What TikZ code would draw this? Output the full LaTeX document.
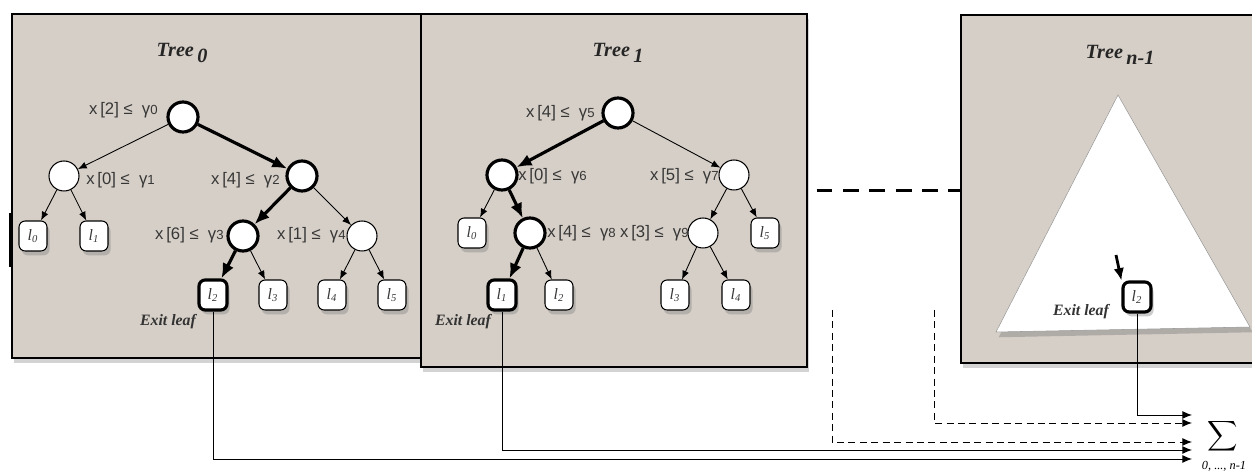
\documentclass[tikz,border=0pt]{standalone}
\usepackage{amsmath}
\usepackage{fontspec}
\setmainfont{Liberation Serif}
\setsansfont{Liberation Sans}
\usepackage{xcolor}
\definecolor{panel-bg}{RGB}{214,207,199}
\definecolor{label-gray}{RGB}{55,55,55}
\usepackage{tikz}
\usetikzlibrary{arrows.meta,shadows}
\newcommand{\cnd}[2]{x\,[#1]\;≤\;\;γ{\fontsize{7.5}{8}\selectfont #2}}
\newcommand{\lf}[1]{l\textsubscript{#1}}

\begin{document}
\begin{tikzpicture}[x=0.02cm,y=-0.02cm,
    panel/.style={rectangle,anchor=north west,draw=black,line width=1.1pt,fill=panel-bg,inner sep=0pt,drop shadow={shadow xshift=1pt,shadow yshift=-3pt,opacity=0.35}},
    splitnode/.style={circle,draw=black,fill=white,line width=0.6pt,minimum size=0.6cm,inner sep=0pt},
    pathnode/.style={splitnode,line width=1.8pt},
    leaf/.style={rectangle,rounded corners=3.5pt,draw=black,fill=white,line width=0.6pt,minimum width=0.56cm,minimum height=0.6cm,inner sep=0pt,font=\fontsize{9}{10}\selectfont\itshape,text=label-gray,drop shadow={shadow xshift=1.5pt,shadow yshift=-2.5pt,opacity=0.4}},
    exitnode/.style={leaf,line width=1.8pt},
    cond/.style={font=\sffamily\fontsize{9.5}{11}\selectfont,text=label-gray,inner sep=0pt},
    treetitle/.style={font=\bfseries\itshape\fontsize{11.5}{13}\selectfont,text=black!85},
    exitlabel/.style={font=\bfseries\itshape\fontsize{9}{10}\selectfont,text=black!80},
    thinarc/.style={-{Latex[length=5pt,width=4pt]},line width=0.5pt},
    patharc/.style={-{Latex[length=8.5pt,width=7pt]},line width=1.8pt},
    feed/.style={-{Latex[length=5.5pt,width=4.5pt]},line width=0.5pt}]
    \useasboundingbox (0,0) rectangle (1252,472);

    \node[panel,minimum width=8.18cm,minimum height=6.88cm] (p0) at (11,13) {};
    \node[panel,minimum width=7.72cm,minimum height=7.06cm] (p1) at (420,13) {};
    \node[panel,minimum width=6.1cm,minimum height=6.96cm] (p2) at (960,14) {};
    \draw[line width=2pt] (11,213) -- (11,267);

    \node[treetitle] (tt0) at (182,53) {Tree\raisebox{-0.6ex}{\,0}};
    \node[treetitle] (tt1) at (618,53) {Tree\raisebox{-0.6ex}{\,1}};
    \node[treetitle] (tt2) at (1120,55) {Tree\raisebox{-0.6ex}{\,n-1}};

    \node[pathnode] (t0r) at (183,117) {};
    \node[splitnode] (t0a) at (64,176) {};
    \node[pathnode] (t0b) at (302,176) {};
    \node[pathnode] (t0c) at (243,236) {};
    \node[splitnode] (t0d) at (362,236) {};
    \node[leaf] (t0l0) at (33,236) {\lf{0}};
    \node[leaf] (t0l1) at (94,236) {\lf{1}};
    \node[exitnode] (t0l2) at (213,295) {\lf{2}};
    \node[leaf] (t0l3) at (273,295) {\lf{3}};
    \node[leaf] (t0l4) at (332,295) {\lf{4}};
    \node[leaf] (t0l5) at (392,295) {\lf{5}};
    \node[cond,anchor=east] (c0) at (158,110) {\cnd{2}{0}};
    \node[cond,anchor=west] (c1) at (86,180) {\cnd{0}{1}};
    \node[cond,anchor=east] (c2) at (280,180) {\cnd{4}{2}};
    \node[cond,anchor=east] (c3) at (224,235) {\cnd{6}{3}};
    \node[cond,anchor=east] (c4) at (346,235) {\cnd{1}{4}};
    \node[exitlabel] (e0) at (168,322) {Exit leaf};
    \draw[patharc] (t0r) -- (t0b);
    \draw[thinarc] (t0r) -- (t0a);
    \draw[thinarc] (t0a) -- (t0l0);
    \draw[thinarc] (t0a) -- (t0l1);
    \draw[patharc] (t0b) -- (t0c);
    \draw[thinarc] (t0b) -- (t0d);
    \draw[patharc] (t0c) -- (t0l2);
    \draw[thinarc] (t0c) -- (t0l3);
    \draw[thinarc] (t0d) -- (t0l4);
    \draw[thinarc] (t0d) -- (t0l5);

    \node[pathnode] (t1r) at (618,113) {};
    \node[pathnode] (t1a) at (502,175) {};
    \node[splitnode] (t1b) at (734,175) {};
    \node[pathnode] (t1c) at (530,233) {};
    \node[splitnode] (t1d) at (703,233) {};
    \node[leaf] (t1l0) at (472,233) {\lf{0}};
    \node[leaf] (t1l5) at (765,233) {\lf{5}};
    \node[exitnode] (t1l1) at (502,295) {\lf{1}};
    \node[leaf] (t1l2) at (559,295) {\lf{2}};
    \node[leaf] (t1l3) at (675,295) {\lf{3}};
    \node[leaf] (t1l4) at (736,295) {\lf{4}};
    \node[cond,anchor=east] (c5) at (595,113) {\cnd{4}{5}};
    \node[cond,anchor=west] (c6) at (518,176) {\cnd{0}{6}};
    \node[cond,anchor=east] (c7) at (719,176) {\cnd{5}{7}};
    \node[cond,anchor=west] (c8) at (547,233) {\cnd{4}{8}};
    \node[cond,anchor=east] (c9) at (689,233) {\cnd{3}{9}};
    \node[exitlabel] (e1) at (463,322) {Exit leaf};
    \draw[patharc] (t1r) -- (t1a);
    \draw[thinarc] (t1r) -- (t1b);
    \draw[thinarc] (t1a) -- (t1l0);
    \draw[patharc] (t1a) -- (t1c);
    \draw[patharc] (t1c) -- (t1l1);
    \draw[thinarc] (t1c) -- (t1l2);
    \draw[thinarc] (t1b) -- (t1d);
    \draw[thinarc] (t1b) -- (t1l5);
    \draw[thinarc] (t1d) -- (t1l3);
    \draw[thinarc] (t1d) -- (t1l4);

    \draw[fill=white,draw=black!40,line width=0.3pt,drop shadow={shadow xshift=1.5pt,shadow yshift=-3pt,opacity=0.45}]
        (1118,95) -- (996,332) -- (1250,327) -- cycle;
    \node[exitnode] (t2l2) at (1137,297) {\lf{2}};
    \node[exitlabel] (e2) at (1081,312) {Exit leaf};
    \coordinate (t2in) at (1116,255);
    \draw[-{Latex[length=7pt,width=6pt]},line width=1.6pt] (t2in) -- (t2l2.north west);

    \draw[dashed,line width=1.6pt,dash pattern=on 9pt off 6pt,shorten <=5pt] (p1.east) -- (p1.east -| p2.west);

    \node[font=\fontsize{13}{15}\selectfont,inner sep=0pt] (sum) at (1223,436) {$\displaystyle\sum$};
    \node[font=\fontsize{7}{8}\selectfont\itshape] (sumsub) at (1224,466) {0, ..., n-1};
    \coordinate (s1) at (1192,415);
    \coordinate (s2) at (1192,423);
    \coordinate (s3) at (1192,442);
    \coordinate (s4) at (1192,450);
    \coordinate (s5) at (1192,459);
    \coordinate (d1) at (832,310);
    \coordinate (d2) at (934,310);
    \draw[feed] (t2l2.south) |- (s1);
    \draw[feed,dashed,dash pattern=on 4pt off 2.5pt] (d2) |- (s2);
    \draw[feed,dashed,dash pattern=on 4pt off 2.5pt] (d1) |- (s3);
    \draw[feed] (t1l1.south) |- (s4);
    \draw[feed] (t0l2.south) |- (s5);
\end{tikzpicture}
\end{document}
